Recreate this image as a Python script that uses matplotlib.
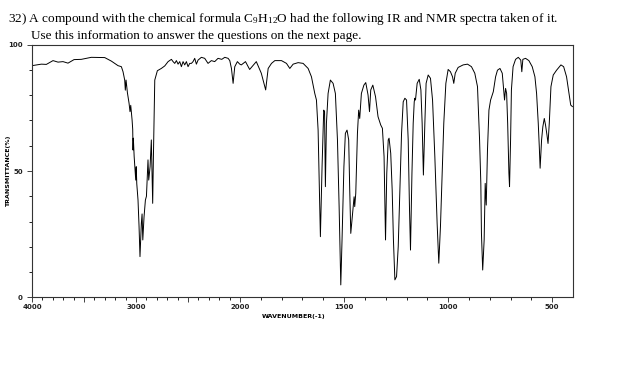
import numpy as np
import matplotlib.pyplot as plt

plt.rcParams['mathtext.fontset'] = 'custom'
plt.rcParams['mathtext.rm'] = 'Liberation Serif'
plt.rcParams['mathtext.it'] = 'Liberation Serif:italic'

# IR spectrum (wavenumber in cm-1, transmittance in %)
wavenumber = [
    4000, 3910, 3862, 3798, 3750, 3702, 3654, 3596, 3526, 3430, 3301, 3237, 3173,
    3141, 3125, 3109, 3103, 3096, 3083, 3067, 3058, 3051, 3038, 3032, 3029, 3026,
    3018, 3003, 2998, 2993, 2981, 2971, 2962, 2949, 2942, 2935, 2923, 2910, 2900,
    2891, 2885, 2878, 2865, 2853, 2840, 2833, 2820, 2795, 2757, 2724, 2692, 2660,
    2644, 2628, 2612, 2596, 2580, 2564, 2548, 2532, 2516, 2500, 2484, 2468, 2452,
    2436, 2420, 2404, 2372, 2340, 2308, 2276, 2244, 2212, 2176, 2147, 2115, 2099,
    2083, 2067, 2051, 2026, 2003, 1994, 1974, 1954, 1922, 1898, 1877, 1865, 1849,
    1833, 1801, 1777, 1761, 1745, 1721, 1697, 1673, 1657, 1641, 1633, 1625, 1620,
    1614, 1606, 1598, 1594, 1590, 1585, 1577, 1566, 1553, 1542, 1532, 1524, 1516,
    1510, 1501, 1494, 1486, 1478, 1473, 1468, 1462, 1452, 1449, 1444, 1436, 1430,
    1425, 1417, 1405, 1396, 1385, 1378, 1372, 1362, 1349, 1337, 1324, 1316, 1308,
    1301, 1295, 1288, 1284, 1276, 1269, 1263, 1256, 1248, 1240, 1232, 1224, 1216,
    1208, 1200, 1192, 1186, 1181, 1174, 1168, 1163, 1160, 1157, 1149, 1139, 1131,
    1125, 1119, 1112, 1106, 1096, 1085, 1075, 1064, 1053, 1045, 1037, 1029, 1021,
    1011, 1000, 989, 979, 973, 966, 952, 928, 907, 888, 872, 859, 849, 843, 840,
    834, 827, 822, 817, 811, 804, 796, 783, 772, 763, 751, 740, 734, 729, 724, 719,
    714, 708, 705, 700, 696, 688, 676, 663, 651, 646, 641, 628, 612, 596, 583, 575,
    567, 562, 558, 551, 545, 538, 532, 525, 520, 514, 506, 495, 479, 458, 445, 431,
    419, 411, 403,
]
transmittance = [
    91.7, 92.3, 92.2, 93.7, 93.1, 93.3, 92.7, 94.1, 94.2, 95.0, 94.9, 93.5, 91.7,
    91.3, 89.3, 86.0, 82.0, 86.0, 81.0, 76.8, 73.5, 76.0, 70.2, 66.5, 58.3, 63.0,
    55.7, 46.4, 51.7, 45.0, 38.5, 28.0, 16.1, 29.3, 33.0, 22.7, 31.9, 38.5, 40.0,
    49.0, 54.4, 46.4, 51.7, 62.3, 37.2, 55.7, 86.0, 89.7, 90.6, 91.6, 93.3, 94.2,
    93.3, 92.6, 93.7, 92.3, 93.3, 91.3, 93.3, 92.0, 93.3, 91.3, 92.6, 92.6, 93.3,
    94.6, 92.3, 93.9, 95.0, 94.6, 92.6, 93.7, 93.3, 94.6, 94.2, 95.0, 94.6, 93.7,
    90.6, 84.7, 91.3, 93.3, 92.3, 92.0, 93.3, 90.2, 93.3, 88.7, 82.1, 90.6, 92.6,
    93.7, 93.7, 92.6, 90.6, 92.3, 92.9, 92.6, 90.6, 87.3, 80.7, 78.1, 66.2, 46.4,
    24.0, 51.7, 74.1, 73.5, 43.8, 68.9, 80.7, 86.0, 84.7, 80.7, 62.3, 35.9, 4.9,
    22.7, 51.7, 64.9, 66.2, 62.3, 42.5, 25.3, 30.6, 39.8, 35.9, 41.2, 64.9, 74.1,
    70.8, 80.7, 84.0, 85.0, 80.1, 73.5, 82.1, 84.0, 79.4, 71.5, 68.2, 66.9, 55.7,
    22.7, 49.1, 62.3, 63.0, 57.0, 42.5, 22.7, 6.9, 8.2, 20.0, 42.5, 64.9, 77.4,
    78.8, 78.1, 62.3, 35.9, 18.7, 49.1, 68.9, 77.4, 78.8, 78.1, 84.7, 86.3, 82.1,
    68.9, 48.4, 68.9, 84.7, 88.0, 86.7, 78.1, 55.7, 29.3, 13.5, 28.0, 49.1, 68.9,
    84.7, 90.2, 89.3, 87.3, 84.7, 88.7, 91.0, 92.0, 92.3, 91.3, 88.7, 83.4, 62.3,
    45.1, 25.3, 10.8, 22.7, 45.1, 36.5, 58.3, 74.1, 78.1, 81.4, 87.3, 89.9, 90.6,
    88.7, 82.7, 78.1, 82.7, 80.7, 68.9, 49.1, 43.8, 62.3, 82.1, 91.3, 94.2, 95.0,
    93.9, 89.3, 94.2, 94.6, 93.7, 91.3, 87.3, 80.7, 68.9, 59.6, 51.1, 62.3, 67.5,
    70.8, 68.2, 64.2, 60.9, 68.9, 83.4, 88.0, 89.9, 92.0, 91.3, 87.3, 80.7, 76.1,
    75.5,
]

x_labelled = [4000, 3000, 2000, 1500, 1000, 500]
x_major = [4000, 3500, 3000, 2500, 2000, 1500, 1000, 500]
y_labelled = [0, 50, 100]

title1 = "32) A compound with the chemical formula C$_{9}$H$_{12}$O had the following IR and NMR spectra taken of it."
title2 = "Use this information to answer the questions on the next page."


# the chart is drawn at half scale above 2000 cm-1
def forward(w):
    w = np.asarray(w, dtype=float)
    return np.where(w <= 2000, w, 2000 + (w - 2000) / 2)


def inverse(p):
    p = np.asarray(p, dtype=float)
    return np.where(p <= 2000, p, 2000 + (p - 2000) * 2)


fig = plt.figure(figsize=(6.2, 3.66), dpi=100)
ax = fig.add_axes([32 / 620, 1 - 297.3 / 366, 541 / 620, 252.6 / 366])

ax.plot(wavenumber, transmittance, color='black', lw=0.7)

ax.set_xscale('function', functions=(forward, inverse))
ax.set_xlim(4000, 400)
ax.set_ylim(0, 100)

ax.set_xticks(x_major)
ax.set_xticklabels([str(v) if v in x_labelled else '' for v in x_major])
ax.set_xticks(np.arange(500, 4000, 100), minor=True)
ax.set_yticks(y_labelled)
ax.set_yticks(np.arange(10, 100, 10), minor=True)

ax.tick_params(axis='both', which='major', length=3.5, width=0.6,
               labelsize=5, pad=1.5, colors='#222222')
ax.tick_params(axis='both', which='minor', length=2, width=0.6)
ax.tick_params(axis='y', which='major', pad=3)
for lab in ax.get_xticklabels() + ax.get_yticklabels():
    lab.set_fontweight('bold')

for sp in ax.spines.values():
    sp.set_color('#333333')
    sp.set_linewidth(0.8)

ax.set_xlabel("WAVENUMBER(-1)", fontsize=4.5, fontweight='bold', labelpad=2)
ax.xaxis.set_label_coords(0.483, -0.065)
ax.set_ylabel("TRANSMITTANCE(%)", fontsize=4.5, fontweight='bold')
ax.yaxis.set_label_coords(-0.038, 0.5)

fig.text(8 / 620, 1 - 22 / 366, title1, fontsize=9.55, family='Liberation Serif')
fig.text(31 / 620, 1 - 39.5 / 366, title2, fontsize=9.55, family='Liberation Serif')

fig.savefig('out.png', dpi=100)
